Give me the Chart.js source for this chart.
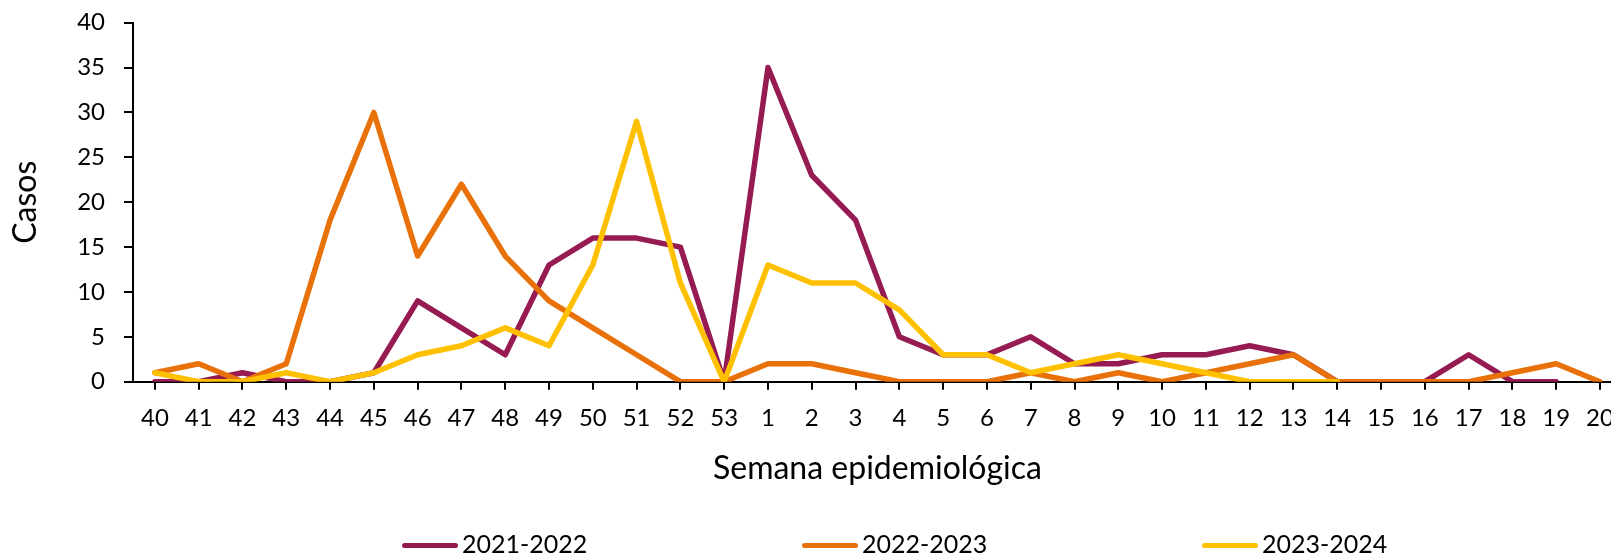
<!DOCTYPE html>
<html>
<head>
<meta charset="utf-8">
<script src="https://cdn.jsdelivr.net/npm/chart.js@4"></script>
<style>
  body { margin: 0; overflow: hidden; background: #fff; }
  #wrap { position: relative; width: 1640px; height: 555px; }
  #legend { position: absolute; left: 402px; top: 531px; display: flex; font-family: Lato, sans-serif; font-size: 25px; line-height: 25px; color: #000; }
  .item { display: flex; align-items: center; width: 400px; }
  .item span.line { display: inline-block; width: 56px; height: 5px; border-radius: 3px; position: relative; top: 2px; }
  .item span.txt { margin-left: 4px; }
</style>
</head>
<body>
<div id="wrap">
  <canvas id="chart" width="1640" height="555"></canvas>
  <div id="legend"></div>
</div>
<script>
// Semana epidemiológica 40 -> 20
const weeks = ['40', '41', '42', '43', '44', '45', '46', '47', '48', '49', '50', '51', '52', '53',
    '1', '2', '3', '4', '5', '6', '7', '8', '9', '10', '11', '12', '13', '14', '15', '16', '17', '18', '19', '20'];

const season2122 = [0, 0, 1, 0, 0, 1, 9, 6, 3, 13, 16, 16, 15, 0,
    35, 23, 18, 5, 3, 3, 5, 2, 2, 3, 3, 4, 3, 0, 0, 0, 3, 0, 0, null];
const season2223 = [1, 2, 0, 2, 18, 30, 14, 22, 14, 9, 6, 3, 0, 0,
    2, 2, 1, 0, 0, 0, 1, 0, 1, 0, 1, 2, 3, 0, 0, 0, 0, 1, 2, 0];
const season2324 = [1, 0, 0, 1, 0, 1, 3, 4, 6, 4, 13, 29, 11, 0,
    13, 11, 11, 8, 3, 3, 1, 2, 3, 2, 1, 0, 0, 0, null, null, null, null, null, null];

const seasonNames = ['2021-2022', '2022-2023', '2023-2024'];
const seasonColors = ['#961B53', '#E8710A', '#FFC000'];

const yTicks = [0, 5, 10, 15, 20, 25, 30, 35, 40];

const font = 'Lato, sans-serif';

function makeDataset(i, values) {
    return {
        label: seasonNames[i],
        data: values,
        borderColor: seasonColors[i],
        backgroundColor: seasonColors[i],
        borderWidth: 5.5,
        pointRadius: 0,
        tension: 0,
        borderCapStyle: 'round',
        borderJoinStyle: 'round',
        fill: false,
        order: 3 - i   // later seasons drawn on top
    };
}

const ctx = document.getElementById('chart').getContext('2d');
const chart = new Chart(ctx, {
    type: 'line',
    data: {
        labels: weeks,
        datasets: [
            makeDataset(0, season2122),
            makeDataset(1, season2223),
            makeDataset(2, season2324)
        ]
    },
    options: {
        responsive: false,
        animation: false,
        layout: { padding: { top: 22.7, right: 18.1, bottom: 0, left: 0 } },
        plugins: {
            legend: { display: false },
            tooltip: { enabled: false }
        },
        scales: {
            x: {
                offset: true,
                grid: { display: true, drawOnChartArea: false, drawTicks: true, tickLength: 8, color: '#000', lineWidth: 2, offset: false },
                border: { display: true, color: '#000', width: 2 },
                ticks: { color: '#000', font: { family: font, size: 24 }, padding: 14, maxRotation: 0, autoSkip: false },
                title: { display: true, text: 'Semana epidemiológica', color: '#000', font: { family: font, size: 32 }, padding: { top: 0, bottom: 67 } },
                afterFit: scale => { scale.height = 555 - 381.7; }
            },
            y: {
                min: 0,
                max: 40,
                afterBuildTicks: scale => { scale.ticks = yTicks.map(v => ({ value: v })); },
                grid: { display: true, drawOnChartArea: false, drawTicks: true, tickLength: 9, color: '#000', lineWidth: 2 },
                border: { display: true, color: '#000', width: 2 },
                ticks: { color: '#000', font: { family: font, size: 24 }, padding: 19 },
                title: { display: true, text: 'Casos', color: '#000', font: { family: font, size: 32 }, padding: { top: 6, bottom: 0 } },
                afterFit: scale => {
                    scale.width = 133;
                    // keep the top of the plot where the layout padding puts it
                    scale.paddingTop = 0;
                    scale.paddingBottom = 0;
                }
            }
        }
    }
});

// HTML legend built from the chart datasets
const legendEl = document.getElementById('legend');
chart.data.datasets.forEach(ds => {
    const item = document.createElement('div');
    item.className = 'item';
    const line = document.createElement('span');
    line.className = 'line';
    line.style.background = ds.borderColor;
    const txt = document.createElement('span');
    txt.className = 'txt';
    txt.textContent = ds.label;
    item.appendChild(line);
    item.appendChild(txt);
    legendEl.appendChild(item);
});
</script>
</body>
</html>
